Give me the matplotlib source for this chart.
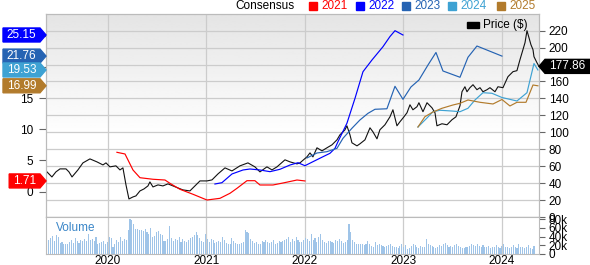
import numpy as np
import matplotlib
matplotlib.use("Agg")
import matplotlib.pyplot as plt
from matplotlib.patches import Polygon, Rectangle
from matplotlib.transforms import IdentityTransform

plt.rcParams['font.family'] = ['Liberation Sans', 'DejaVu Sans']

# price line, x as decimal year
price_t = [2019.378, 2019.431, 2019.472, 2019.513, 2019.574, 2019.604, 2019.635, 2019.695, 2019.746, 2019.817,
           2019.888, 2019.949, 2019.980, 2020.020, 2020.081, 2020.122, 2020.152, 2020.183, 2020.213, 2020.254,
           2020.284, 2020.325, 2020.365, 2020.406, 2020.426, 2020.457, 2020.508, 2020.558, 2020.609, 2020.660,
           2020.711, 2020.761, 2020.832, 2020.883, 2020.934, 2021.005, 2021.056, 2021.117, 2021.188, 2021.259,
           2021.340, 2021.421, 2021.492, 2021.543, 2021.614, 2021.665, 2021.716, 2021.797, 2021.848, 2021.919,
           2021.949, 2022.020, 2022.051, 2022.081, 2022.122, 2022.173, 2022.223, 2022.274, 2022.325, 2022.355,
           2022.406, 2022.426, 2022.457, 2022.477, 2022.528, 2022.558, 2022.609, 2022.660, 2022.690, 2022.731,
           2022.761, 2022.812, 2022.863, 2022.893, 2022.934, 2022.964, 2023.005, 2023.036, 2023.066, 2023.096,
           2023.137, 2023.157, 2023.198, 2023.239, 2023.289, 2023.320, 2023.340, 2023.391, 2023.442, 2023.492,
           2023.533, 2023.574, 2023.594, 2023.624, 2023.645, 2023.675, 2023.706, 2023.746, 2023.777, 2023.807,
           2023.848, 2023.878, 2023.929, 2023.959, 2024.010, 2024.061, 2024.112, 2024.152, 2024.183, 2024.213,
           2024.234, 2024.254, 2024.274, 2024.294, 2024.315, 2024.325, 2024.355, 2024.376]
price_v = [53.6, 47.3, 53.3, 56.8, 56.8, 53.3, 47.3, 55.6, 63.9, 68.6,
           65.1, 61.5, 63.9, 59.2, 60.4, 55.6, 58.0, 37.9, 21.3, 23.7,
           24.9, 30.8, 33.1, 36.7, 41.4, 35.5, 37.9, 36.7, 39.1, 36.7,
           34.3, 32.0, 30.8, 36.7, 42.6, 42.6, 43.8, 50.9, 58.0, 54.4,
           60.4, 63.9, 59.2, 53.3, 59.2, 55.6, 59.2, 67.5, 65.1, 62.7,
           63.9, 71.0, 75.7, 71.0, 81.7, 78.1, 81.7, 85.2, 91.1, 97.0,
           102.9, 107.7, 97.0, 87.6, 84.0, 86.4, 91.1, 105.3, 100.6, 92.3,
           103.0, 108.9, 118.3, 126.6, 107.7, 112.4, 118.3, 123.1, 132.5, 126.6,
           130.2, 134.9, 124.3, 134.9, 129.0, 123.1, 107.7, 110.1, 108.9, 114.8,
           118.3, 131.4, 147.9, 153.8, 147.9, 152.7, 156.2, 150.3, 152.7, 147.9,
           150.3, 152.7, 147.9, 153.8, 152.7, 165.7, 171.6, 172.8, 185.8, 197.6,
           205.9, 220.0, 211.8, 203.5, 197.6, 189.3, 182.2, 177.86]

# consensus EPS estimates per fiscal year
eps21_t = [2020.091, 2020.173, 2020.254, 2020.325, 2020.457, 2020.579, 2020.629, 2020.731, 2020.863, 2021.005,
           2021.137, 2021.239, 2021.310, 2021.411, 2021.492, 2021.543, 2021.675, 2021.777, 2021.919, 2022.000]
eps21_v = [6.31, 6.04, 3.47, 2.23, 1.98, 1.86, 1.33, 0.37, -0.43, -1.35,
           -1.08, -0.27, 0.53, 1.75, 1.75, 1.06, 1.06, 1.38, 1.86, 1.71]

eps22_t = [2021.086, 2021.157, 2021.259, 2021.371, 2021.442, 2021.543, 2021.645, 2021.746, 2021.848, 2021.929,
           2022.000, 2022.081, 2022.183, 2022.254, 2022.305, 2022.335, 2022.426, 2022.508, 2022.589, 2022.680,
           2022.792, 2022.863, 2022.914, 2022.995]
eps22_v = [1.22, 1.43, 2.83, 3.47, 3.63, 3.47, 3.20, 3.58, 4.27, 4.64,
           4.16, 4.80, 5.60, 6.15, 6.95, 8.01, 10.97, 14.98, 19.25, 21.13,
           23.27, 24.90, 25.84, 25.15]

eps23_t = [2022.020, 2022.122, 2022.223, 2022.325, 2022.386, 2022.477, 2022.558, 2022.640, 2022.711, 2022.832,
           2022.914, 2022.995, 2023.076, 2023.157, 2023.249, 2023.330, 2023.401, 2023.574, 2023.655, 2023.746,
           2024.000]
eps23_v = [5.40, 6.20, 6.41, 6.95, 8.56, 10.17, 11.50, 12.57, 13.22, 13.30,
           16.91, 14.82, 16.80, 17.92, 20.33, 22.34, 19.37, 18.36, 21.57, 23.38,
           21.76]

eps24_t = [2023.147, 2023.239, 2023.299, 2023.371, 2023.492, 2023.574, 2023.655, 2023.726, 2023.807, 2023.898,
           2024.000, 2024.152, 2024.254, 2024.325, 2024.365]
eps24_v = [10.37, 11.82, 12.83, 13.06, 12.94, 12.83, 13.38, 14.71, 15.88, 15.79,
           15.11, 14.55, 15.88, 20.57, 19.53]

eps25_t = [2023.147, 2023.218, 2023.299, 2023.391, 2023.503, 2023.574, 2023.655, 2023.777, 2023.909, 2024.000,
           2024.081, 2024.152, 2024.244, 2024.315, 2024.365]
eps25_v = [10.37, 12.03, 12.78, 13.38, 13.91, 14.18, 14.71, 14.34, 14.07, 14.79,
           13.75, 14.34, 14.34, 17.12, 16.99]

# weekly volume in thousands, starting mid May 2019
vol_start = 2019.375
vol_k = [38, 33, 36, 42, 30, 44, 40, 26, 28, 22, 24, 22, 28, 33, 25, 36, 30, 26, 33, 31, 35, 30, 46, 33, 34, 29, 38, 23, 25, 27, 30, 22, 28,
         38, 36, 15, 24, 32, 28, 38, 30, 34, 32, 55, 80, 78,
         70, 58, 57, 55, 56, 52, 58, 50, 47, 59, 40, 42, 50,
         53, 47, 43, 30, 30, 35, 65, 36, 30, 34, 33, 40, 28,
         35, 30, 28, 32, 36, 40, 44, 50, 43, 37, 30, 27, 45,
         34, 28, 34, 32, 26, 28, 30, 28, 38, 32, 26, 22, 24,
         36, 30, 26, 24, 22, 25, 28, 55, 50, 49, 34, 30, 26,
         28, 24, 22, 30, 28, 32, 28, 26, 27, 33, 24, 26, 30,
         27, 30, 32, 34, 38, 28, 34, 30, 40, 32, 27, 28, 33,
         36, 35, 30, 45, 33, 36, 28, 40, 47, 33, 28, 25, 31,
         30, 28, 26, 33, 30, 34, 30, 26, 28, 32, 70, 50, 33,
         28, 22, 22, 24, 22, 20, 24, 30, 22, 18, 16, 28, 20,
         24, 20, 18, 16, 18, 20, 24, 18, 16, 15, 14, 18, 22,
         16, 20, 12, 14, 18, 22, 20, 16, 14, 18, 17, 16, 35,
         22, 20, 18, 16, 14, 17, 20, 18, 22, 25, 20, 16, 18,
         15, 20, 24, 18, 16, 14, 14, 15, 16, 18, 22, 20, 18,
         22, 18, 17, 20, 15, 16, 18, 14, 16, 17, 20, 16, 14,
         18, 22, 17, 15, 14, 16, 20, 16, 14, 22, 17, 15, 14,
         16, 20, 13, 12, 18]

years = [2020, 2021, 2022, 2023, 2024]
series = [('2021', eps21_t, eps21_v, '#ff0000'),
          ('2022', eps22_t, eps22_v, '#0000ff'),
          ('2023', eps23_t, eps23_v, '#2563b3'),
          ('2024', eps24_t, eps24_v, '#3ea2d3'),
          ('2025', eps25_t, eps25_v, '#b27b2c')]

W, H = 590, 265
fig = plt.figure(figsize=(W / 100, H / 100), dpi=100)
px = IdentityTransform()


def box(x0, y0, x1, y1):
    # axes rect from image pixel coords
    return [x0 / W, 1 - y1 / H, (x1 - x0) / W, (y1 - y0) / H]


grid_c = '#cccccc'
spine_c = '#bbbbbb'
fs = 8.5
xlim = (2019.371, 2024.376)

ax = fig.add_axes(box(46, 14, 539, 217))
ax2 = ax.twinx()
axv = fig.add_axes(box(46, 217, 539, 254))

# background gradient of the price panel
grad = np.clip(np.linspace(0.895, 1.07, 120), 0, 1).reshape(-1, 1)
ax.imshow(grad, extent=[0, 1, 0, 1], transform=ax.transAxes, aspect='auto',
          cmap='gray', vmin=0, vmax=1, zorder=0, interpolation='bilinear')
ax.set_axisbelow(True)

ax.plot(price_t, price_v, color='#111111', lw=0.8, zorder=3)
for name, t, v, c in series:
    ax2.plot(t, v, color=c, lw=0.85)

ax.set_xlim(*xlim)
ax.set_ylim(0, 239.7)
ax2.set_ylim(-4.08, 28.52)
ax.set_xticks(years)
ax.set_yticks(range(0, 221, 20))
ax.grid(True, color=grid_c, lw=0.9)
ax.yaxis.tick_right()
ax.tick_params(axis='y', length=4, width=0.8, color='#666666', pad=3, labelsize=fs)
ax.tick_params(axis='x', length=0, labelbottom=False)
ax2.yaxis.tick_left()
ax2.set_yticks([0, 5, 10, 15, 20, 25])
ax2.tick_params(axis='y', length=5, width=0.8, color='#666666', pad=4, labelsize=fs)
for a in (ax, ax2):
    for s in a.spines.values():
        s.set_color(spine_c)

# volume panel
vol_t = vol_start + np.arange(len(vol_k)) * 7 / 365.25
axv.bar(vol_t, vol_k, width=0.011, color='#9fc4e8', align='edge')
axv.set_xlim(*xlim)
axv.set_ylim(0, 85)
axv.set_xticks(years)
axv.set_xticklabels([str(y) for y in years])
axv.set_yticks([0, 20, 40, 60, 80])
axv.set_yticklabels(['0', '20k', '40k', '60k', '80k'])
axv.yaxis.tick_right()
axv.tick_params(axis='y', length=4, width=0.8, color='#666666', pad=3, labelsize=fs)
axv.tick_params(axis='x', length=0, pad=1, labelsize=fs)
axv.grid(True, axis='x', color=grid_c, lw=0.9)
axv.set_axisbelow(True)
for s in axv.spines.values():
    s.set_color(spine_c)
axv.text(56, H - 228, 'Volume', transform=px, color='#3a86c8', fontsize=fs,
         ha='left', va='center')

fig.canvas.draw()

# value tags on the left (EPS) and right (price)
for name, t, v, c in series:
    y = ax2.transData.transform((2020, v[-1]))[1]
    label = f'{v[-1]:.2f}'
    xl = 40 - (len(label) * 6.2 + 6)
    fig.add_artist(Polygon([(xl, y - 7), (40, y - 7), (46, y), (40, y + 7), (xl, y + 7)],
                           closed=True, color=c, transform=px, zorder=10))
    fig.text((xl + 40) / 2, y, label, transform=px, color='white', fontsize=fs,
             ha='center', va='center', zorder=11)

yp = ax.transData.transform((2020, price_v[-1]))[1]
fig.add_artist(Polygon([(539, yp), (545, yp - 7), (592, yp - 7), (592, yp + 7), (545, yp + 7)],
                       closed=True, color='black', transform=px, zorder=10))
fig.text(567, yp, f'{price_v[-1]:.2f}', transform=px, color='white', fontsize=fs,
         ha='center', va='center', zorder=11)

# legends
fig.text(295, H - 6, 'Consensus', transform=px, fontsize=fs, ha='right', va='center')
leg_x = [309, 356, 402, 448, 497]
for (name, t, v, c), lx in zip(series, leg_x):
    fig.add_artist(Rectangle((lx, H - 10), 8, 8, color=c, transform=px))
    fig.text(lx + 12, H - 6, name, transform=px, fontsize=fs, color=c, ha='left', va='center')

fig.add_artist(Rectangle((467, H - 28), 12, 6, color='black', transform=px, zorder=10))
fig.text(483, H - 25, 'Price ($)', transform=px, fontsize=fs, ha='left', va='center', zorder=11)

fig.savefig('out.png', dpi=100)
